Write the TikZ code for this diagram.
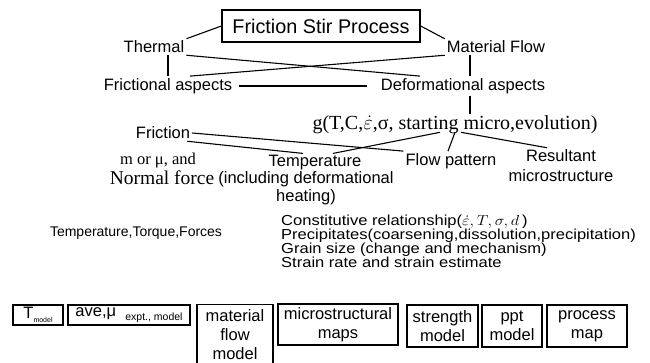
\documentclass[tikz,border=0pt]{standalone}
\usepackage{amsmath}
\usepackage{amssymb}
\usepackage{graphicx}
\usepackage{fontspec}
\setmainfont{Liberation Sans}
\newfontfamily\timesfont{Liberation Serif}
\usepackage{tikz}
\usetikzlibrary{calc}
\setlength{\lineskiplimit}{-20pt}

\begin{document}
\begin{tikzpicture}
[x=1pt,y=-1pt,
 lbl/.style={inner sep=2pt,font=\fontsize{16.5}{17}\selectfont},
 romtext/.style={inner sep=2pt,font=\fontsize{19.5}{16}\timesfont},
 box/.style={draw,line width=1.3pt,inner sep=2pt,align=center,font=\fontsize{16.5}{19}\selectfont},
 link/.style={line width=1.1pt}]
\useasboundingbox (0,0) rectangle (650,362);

\node[box,font=\fontsize{19.8}{20}\selectfont,minimum width=198,minimum height=32] (fsp) at (321,26) {Friction Stir Process};

\node[lbl] (thermal) at (154,47) {Thermal};
\node[lbl] (matflow) at (496,47) {Material Flow};
\node[lbl] (frict) at (168,86) {Frictional aspects};
\node[lbl] (deform) at (463,86) {Deformational aspects};
\node[romtext,font=\fontsize{20}{20}\timesfont] (gfun) at (455,125) {g(T,C,$\dot{\varepsilon}$,σ, starting micro,evolution)};
\coordinate (gfoot) at ([yshift=4pt]gfun.south);

\node[lbl] (friction) at (163,133) {Friction};
\node[romtext,font=\fontsize{16.5}{16}\timesfont] (mmu) at (158,161) {m or μ, and};
\node[romtext] (normal) at (162,178) {Normal force};
\node[lbl] (temp) at (315,163) {Temperature};
\node[lbl,align=center,font=\fontsize{16.5}{18}\selectfont] (tempnote) at (306,188) {(including deformational\\heating)};
\node[lbl] (flow) at (451,161) {Flow pattern};
\node[lbl,align=center,font=\fontsize{16.5}{20}\selectfont] (result) at (561,166) {Resultant\\microstructure};

\node[lbl,font=\fontsize{14}{14}\selectfont] (ttf) at (136,233) {Temperature,Torque,Forces};
\node[lbl,anchor=west,font=\fontsize{14.5}{14}\selectfont] (consti) at (279,241) {\scalebox{1.14}[1]{\vbox{\hbox{Constitutive relationship($\dot{\varepsilon},T,\sigma,d$\,)}\hbox{Precipitates(coarsening,dissolution,precipitation)}\hbox{Grain size (change and mechanism)}\hbox{Strain rate and strain estimate}}}};

% models along the bottom
\node[box,minimum width=50,minimum height=20] (tmod) at (38,315) {T\raisebox{-0.5ex}{\fontsize{7}{7}\selectfont model}};
\node[box,minimum width=122,minimum height=20] (avemu) at (129,315) {ave,μ\ \ \raisebox{-0.4ex}{\fontsize{10.5}{11}\selectfont expt., model}};
\node[box,anchor=north,minimum width=76,minimum height=60] (mflow) at (235,304) {material\\flow\\model};
\node[box,minimum width=120,minimum height=41] (micro) at (338,324.5) {microstructural\\maps};
\node[box,minimum width=71,minimum height=42] (strength) at (442.5,326) {strength\\model};
\node[box,minimum width=60,minimum height=42] (pptmod) at (512,326) {ppt\\model};
\node[box,minimum width=80,minimum height=42] (procmap) at (587,326) {process\\map};

\draw[link] (fsp.west) -- (thermal.north east);
\draw[link] (fsp.east) -- (matflow.north west);
\draw[link] (thermal.south east) -- ($(deform.north)+(-43,0)$);
\draw[link] (matflow.south west) -- ($(frict.north)+(22,0)$);
\draw[link] (frict.north) -- (frict.north |- thermal.south);
\draw[link] ([xshift=7pt]deform.north) -- ([xshift=7pt]deform.north |- matflow.south);
\draw[link,shorten <=5pt,shorten >=12pt] (frict.east) -- (deform.west);
\draw[link] ([xshift=7pt]deform.south) -- ([xshift=7pt]deform.south |- gfun.north);

\draw[link] (friction.east) -- (flow.north west);
\draw[link] ([xshift=-5pt]friction.south east) -- ([xshift=-12pt]temp.north);
\draw[link] ([xshift=-15pt]gfoot) -- ([xshift=18pt]temp.north);
\draw[link] (gfoot) -- ([xshift=-3pt]flow.north);
\draw[link] ([xshift=6pt]gfoot) -- ([xshift=-14pt]result.north);

\end{tikzpicture}
\end{document}
